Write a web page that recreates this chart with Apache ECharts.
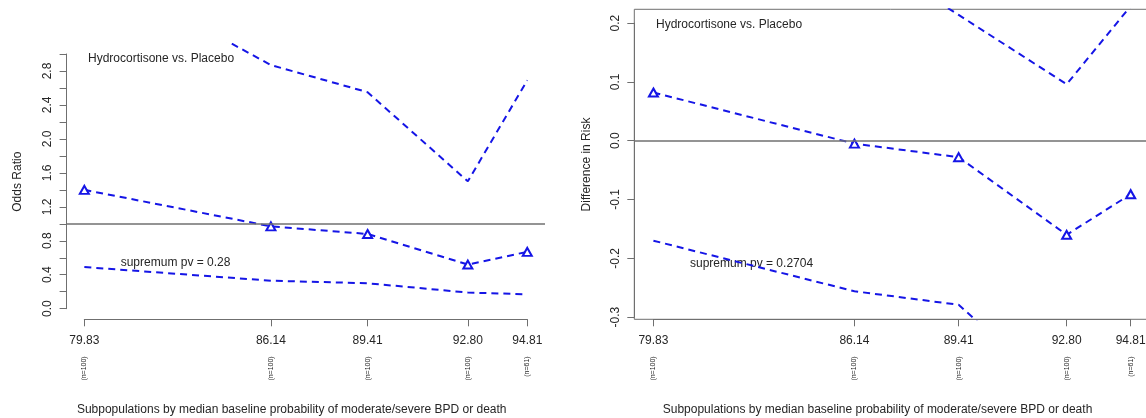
<!DOCTYPE html>
<html>
<head>
<meta charset="utf-8">
<script src="https://cdn.jsdelivr.net/npm/echarts@6/dist/echarts.min.js"></script>
<style>
html,body{margin:0;padding:0;background:#fff;}
#chart{width:1146px;height:418px;}
</style>
</head>
<body>
<div id="chart"></div>
<script>
// ---- data ----
const xVals = [79.83, 86.14, 89.41, 92.80, 94.81];
const xLabels = ['79.83', '86.14', '89.41', '92.80', '94.81'];
const nLabels = ['(n=100)', '(n=100)', '(n=100)', '(n=100)', '(n=61)'];

const orEst   = [1.40, 0.97, 0.88, 0.52, 0.67];
const orLower = [0.49, 0.33, 0.30, 0.19, 0.17];
const orUpper = [4.07, 2.87, 2.55, 1.50, 2.69];

const rdEst   = [0.082, -0.005, -0.028, -0.160, -0.091];
const rdLower = [-0.170, -0.256, -0.279, -0.443, -0.41];
const rdUpper = [0.334, 0.327, 0.214, 0.096, 0.229];

const leftTitle = 'Hydrocortisone vs. Placebo';
const leftPv = 'supremum pv = 0.28';
const rightTitle = 'Hydrocortisone vs. Placebo';
const rightPv = 'supremum pv = 0.2704';
const xTitle = 'Subpopulations by median baseline probability of moderate/severe BPD or death';
const leftYTitle = 'Odds Ratio';
const rightYTitle = 'Difference in Risk';

// ---- styling ----
const FONT = '"Liberation Sans", Arial, sans-serif';
const TXT = '#262626';
const AX = '#6f6f6f';
const BLUE = '#1515e6';

function pair(xs, ys) { return xs.map((x, i) => [x, ys[i]]); }
function idxOf(v) {
  let best = 0, bd = Infinity;
  xVals.forEach((x, i) => { const d = Math.abs(x - v); if (d < bd) { bd = d; best = i; } });
  return best;
}

const chart = echarts.init(document.getElementById('chart'), null, {renderer: 'canvas'});

const hiddenAxis = {show: false};
function grid(left, top, width, height, extra) {
  return Object.assign({left, top, width, height, outerBoundsMode: 'none', containLabel: false}, extra || {});
}

function xAxisLabels(gi) {
  return [{
    type: 'value', gridIndex: gi, min: xVals[0], max: xVals[xVals.length - 1],
    position: 'bottom',
    splitLine: {show: false},
    axisLine: {show: true, lineStyle: {color: AX, width: 1}},
    axisTick: {show: true, length: 7, customValues: xVals, lineStyle: {color: AX, width: 1}},
    axisLabel: {show: true, customValues: xVals, margin: 15, color: TXT, fontFamily: FONT, fontSize: 12,
      formatter: v => xLabels[idxOf(v)]}
  }, {
    type: 'value', gridIndex: gi, min: xVals[0], max: xVals[xVals.length - 1],
    position: 'bottom',
    splitLine: {show: false},
    axisLine: {show: false},
    axisTick: {show: false},
    axisLabel: {show: true, customValues: xVals, margin: 37, rotate: 90, color: TXT, fontFamily: FONT, fontSize: 7,
      formatter: v => nLabels[idxOf(v)]}
  }];
}

function lineSeries(xi, yi, data, withSymbol, hline) {
  const s = {
    type: 'line', xAxisIndex: xi, yAxisIndex: yi, data: data,
    symbol: withSymbol ? 'emptyTriangle' : 'none',
    symbolSize: [9, 8],
    showSymbol: withSymbol,
    lineStyle: {color: BLUE, width: 2, type: [7, 5]},
    itemStyle: {color: BLUE, borderColor: BLUE, borderWidth: 1.6},
    animation: false, silent: true, z: 3
  };
  if (hline !== undefined) {
    s.markLine = {
      silent: true, symbol: 'none', animation: false,
      label: {show: false},
      lineStyle: {color: '#707070', type: 'solid', width: 1.5},
      data: [{yAxis: hline}]
    };
  }
  return s;
}

const option = {
  backgroundColor: '#ffffff',
  animation: false,
  grid: [
    // 0: left data
    grid(66.6, 43.8, 478.4, 275.1),
    // 1: left y axis
    grid(66.6, 54.0, 478.4, 254.7),
    // 2: left x axis
    grid(84.3, 44, 443, 275.3),
    // 3: right data (boxed)
    grid(634.3, 9.3, 515.5, 310, {show: true, borderColor: AX, borderWidth: 1, backgroundColor: 'transparent'}),
    // 4: right y axis
    grid(634.3, 23.1, 515.5, 294),
    // 5: right x axis
    grid(653.4, 9.3, 477.3, 310)
  ],
  xAxis: [
    Object.assign({type: 'value', gridIndex: 0, min: 79.23, max: 95.41}, hiddenAxis),   // 0
    Object.assign({type: 'value', gridIndex: 1, min: 0, max: 1}, hiddenAxis),            // 1
    ...xAxisLabels(2),                                                                   // 2,3
    Object.assign({type: 'value', gridIndex: 3, min: 79.23, max: 95.41}, hiddenAxis),   // 4
    Object.assign({type: 'value', gridIndex: 4, min: 0, max: 1}, hiddenAxis),            // 5
    ...xAxisLabels(5)                                                                    // 6,7
  ],
  yAxis: [
    Object.assign({type: 'value', gridIndex: 0, min: -0.12, max: 3.12}, hiddenAxis),     // 0
    {
      type: 'value', gridIndex: 1, min: 0, max: 3, interval: 0.2,
      splitLine: {show: false},
      axisLine: {show: true, lineStyle: {color: AX, width: 1}},
      axisTick: {show: true, length: 7, lineStyle: {color: AX, width: 1}},
      axisLabel: {show: true, rotate: 90, margin: 13, color: TXT, fontFamily: FONT, fontSize: 12,
        formatter: v => { const k = Math.round(v * 10); return (k % 4 === 0 && k < 30) ? (k / 10).toFixed(1) : ''; }}
    },                                                                                   // 1
    Object.assign({type: 'value', gridIndex: 2, min: 0, max: 1}, hiddenAxis),            // 2
    Object.assign({type: 'value', gridIndex: 3, min: -0.3037, max: 0.2235}, hiddenAxis), // 3
    {
      type: 'value', gridIndex: 4, min: -0.3, max: 0.2, interval: 0.1,
      splitLine: {show: false},
      axisLine: {show: true, lineStyle: {color: AX, width: 1}},
      axisTick: {show: true, length: 7, lineStyle: {color: AX, width: 1}},
      axisLabel: {show: true, rotate: 90, margin: 13, color: TXT, fontFamily: FONT, fontSize: 12,
        formatter: v => (Math.round(v * 10) / 10).toFixed(1)}
    },                                                                                   // 4
    Object.assign({type: 'value', gridIndex: 5, min: 0, max: 1}, hiddenAxis)             // 5
  ],
  series: [
    lineSeries(0, 0, pair(xVals, orUpper), false, 1),
    lineSeries(0, 0, pair(xVals, orEst), true),
    lineSeries(0, 0, pair(xVals, orLower), false),
    lineSeries(4, 3, pair(xVals, rdUpper), false, 0),
    lineSeries(4, 3, pair(xVals, rdEst), true),
    lineSeries(4, 3, pair(xVals, rdLower), false)
  ],
  graphic: [
    {type: 'text', x: 88, y: 59, z: 1, style: {text: leftTitle, fill: TXT, font: '12px ' + FONT, textVerticalAlign: 'middle', textAlign: 'left'}},
    {type: 'text', x: 120.7, y: 263, z: 1, style: {text: leftPv, fill: TXT, font: '12px ' + FONT, textVerticalAlign: 'middle', textAlign: 'left'}},
    {type: 'text', x: 656, y: 25, z: 1, style: {text: rightTitle, fill: TXT, font: '12px ' + FONT, textVerticalAlign: 'middle', textAlign: 'left'}},
    {type: 'text', x: 690, y: 263.3, z: 1, style: {text: rightPv, fill: TXT, font: '12px ' + FONT, textVerticalAlign: 'middle', textAlign: 'left'}},
    {type: 'text', x: 291.7, y: 410, z: 1, style: {text: xTitle, fill: TXT, font: '12px ' + FONT, textVerticalAlign: 'middle', textAlign: 'center'}},
    {type: 'text', x: 877.5, y: 410, z: 1, style: {text: xTitle, fill: TXT, font: '12px ' + FONT, textVerticalAlign: 'middle', textAlign: 'center'}},
    {type: 'text', x: 18, y: 181.7, rotation: Math.PI / 2, z: 1, style: {text: leftYTitle, fill: TXT, font: '12px ' + FONT, textVerticalAlign: 'middle', textAlign: 'center'}},
    {type: 'text', x: 586.5, y: 164.5, rotation: Math.PI / 2, z: 1, style: {text: rightYTitle, fill: TXT, font: '12px ' + FONT, textVerticalAlign: 'middle', textAlign: 'center'}}
  ]
};

chart.setOption(option);
</script>
</body>
</html>
